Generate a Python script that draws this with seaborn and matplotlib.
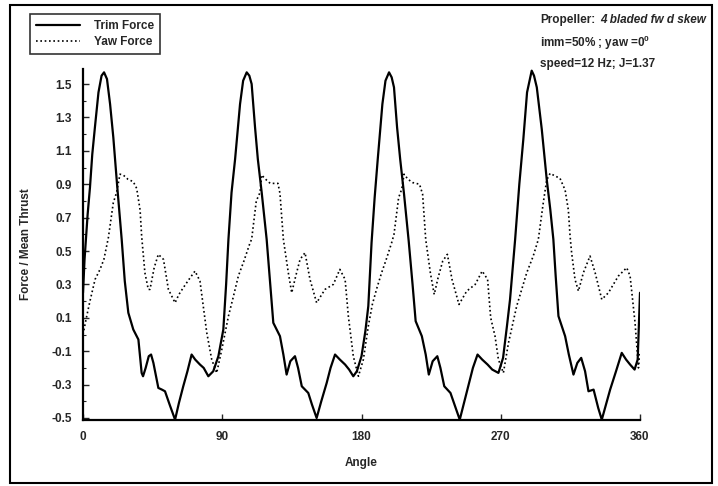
import numpy as np
import pandas as pd
import matplotlib
matplotlib.use("Agg")
import matplotlib.pyplot as plt
import seaborn as sns
from matplotlib.patches import Rectangle
from matplotlib.ticker import MultipleLocator

# Trim force
trim_angle = [
    0, 1, 3, 4.5, 6, 7.8, 10, 12, 13.6, 15.5, 17.5, 19.6, 22, 25, 27, 29.3, 32.5, 35.8,
    37.9, 38.8, 40.5, 42.5, 44, 45.5, 48.7, 51, 53, 56, 59.5, 62, 64.8, 67.5, 70.2,
    72.5, 75.6, 78, 81, 84.2, 87.5, 90.7, 92.5, 94, 96, 98.3, 101.5, 103.5, 105.8,
    107.5, 109, 111.2, 113, 115.5, 118.7, 121, 123, 127.3, 129.5, 131.6, 134, 137,
    139, 141.4, 145.6, 148, 151, 154, 157.5, 160, 162.9, 166, 169.4, 172, 174.7, 177,
    180, 182.5, 184.4, 186.5, 188.5, 190.5, 193.5, 195.5, 197.8, 199.5, 201, 203, 205,
    207.5, 210.5, 213, 215, 219, 221.5, 223.5, 226, 229, 231, 233.5, 237.5, 240.5,
    243.5, 246.5, 249.5, 252, 255, 258, 261.5, 264.5, 268.5, 271.5, 274, 276, 279.3,
    282, 284.6, 287, 290, 291.5, 293.3, 296.5, 299.7, 302, 304, 305.5, 307.3, 311.6,
    314, 317, 319.5, 322, 324.5, 326.7, 330, 333, 335.3, 338, 340.7, 344.5, 348.2,
    351, 353.6, 356.5, 358.5, 360,
]
trim_force = [
    0.25, 0.45, 0.72, 0.88, 1.08, 1.25, 1.45, 1.55, 1.57, 1.53, 1.38, 1.18, 0.90, 0.57,
    0.32, 0.13, 0.03, -0.03, -0.23, -0.25, -0.20, -0.13, -0.12, -0.17, -0.32, -0.33,
    -0.34, -0.42, -0.51, -0.41, -0.31, -0.22, -0.12, -0.15, -0.18, -0.20, -0.25, -0.22,
    -0.13, 0.03, 0.30, 0.57, 0.85, 1.05, 1.38, 1.52, 1.57, 1.55, 1.50, 1.24, 1.05,
    0.85, 0.57, 0.30, 0.07, -0.01, -0.12, -0.24, -0.16, -0.13, -0.20, -0.31, -0.35,
    -0.42, -0.50, -0.40, -0.29, -0.20, -0.12, -0.15, -0.18, -0.21, -0.25, -0.22, -0.13,
    0.02, 0.17, 0.55, 0.82, 1.05, 1.38, 1.52, 1.57, 1.54, 1.48, 1.24, 1.05, 0.84,
    0.56, 0.30, 0.08, -0.01, -0.12, -0.24, -0.16, -0.13, -0.20, -0.31, -0.35, -0.43,
    -0.51, -0.40, -0.29, -0.20, -0.12, -0.15, -0.18, -0.21, -0.23, -0.14, 0.05, 0.21,
    0.57, 0.90, 1.17, 1.45, 1.58, 1.55, 1.48, 1.23, 0.93, 0.75, 0.57, 0.35, 0.11,
    -0.01, -0.12, -0.24, -0.17, -0.14, -0.22, -0.34, -0.33, -0.44, -0.51, -0.42, -0.33,
    -0.22, -0.11, -0.15, -0.18, -0.21, -0.15, 0.25,
]

# Yaw force
yaw_angle = [
    0, 2.4, 4.5, 7.8, 11, 13.5, 16.4, 19.6, 21.7, 23.9, 26, 29, 32.5, 34.7, 36.9, 37.9,
    40, 42.2, 43.3, 46, 48.7, 52, 55.2, 59.5, 62, 64.8, 68.5, 72.4, 75.6, 80, 83.2,
    86.4, 89.7, 94, 97, 100.4, 104, 108, 109, 112, 114.4, 115.5, 118, 121, 126, 127.3,
    129.5, 132.7, 134.9, 137.5, 140.3, 143.5, 146.7, 151, 156.4, 161.8, 166, 169.4,
    171.5, 174.7, 178, 181.2, 184.4, 187, 190, 193, 196, 199.5, 201, 204, 206, 207.5,
    210, 213, 217.5, 219.5, 221.5, 224.5, 227, 229.5, 232.5, 235.5, 238.5, 243, 248,
    253.5, 258, 261.5, 263.5, 266.3, 268.5, 271.7, 275, 280.3, 286.8, 291, 294.3,
    297.5, 299.7, 301.9, 305, 308.3, 311.6, 313.7, 314.8, 315.8, 318, 320.2, 323.4,
    327.7, 331, 335.3, 339.6, 346, 351.4, 353.6, 356.8, 359, 360,
]
yaw_force = [
    0.0, 0.11, 0.20, 0.33, 0.39, 0.45, 0.58, 0.79, 0.85, 0.96, 0.955, 0.93, 0.915,
    0.875, 0.745, 0.59, 0.37, 0.27, 0.27, 0.40, 0.48, 0.45, 0.27, 0.19, 0.24, 0.28,
    0.33, 0.38, 0.32, 0.01, -0.15, -0.23, -0.09, 0.11, 0.22, 0.35, 0.44, 0.55, 0.57,
    0.80, 0.85, 0.955, 0.93, 0.905, 0.905, 0.845, 0.57, 0.37, 0.25, 0.35, 0.45, 0.49,
    0.33, 0.19, 0.27, 0.30, 0.39, 0.33, 0.11, -0.13, -0.25, -0.15, 0.05, 0.18, 0.28,
    0.37, 0.45, 0.55, 0.60, 0.82, 0.87, 0.96, 0.93, 0.91, 0.90, 0.84, 0.57, 0.37,
    0.24, 0.34, 0.44, 0.48, 0.33, 0.18, 0.26, 0.30, 0.38, 0.33, 0.10, -0.01, -0.15,
    -0.23, -0.05, 0.17, 0.37, 0.47, 0.57, 0.79, 0.925, 0.965, 0.95, 0.935, 0.865,
    0.745, 0.59, 0.49, 0.33, 0.26, 0.37, 0.47, 0.37, 0.21, 0.25, 0.35, 0.40, 0.35,
    0.07, -0.20, -0.10,
]

y_ticks = [-0.5, -0.3, -0.1, 0.1, 0.3, 0.5, 0.7, 0.9, 1.1, 1.3, 1.5]
x_ticks = [0, 90, 180, 270, 360]

sns.set_style("ticks")
plt.rcParams["font.family"] = ["Liberation Sans", "DejaVu Sans"]
plt.rcParams["font.weight"] = "bold"
plt.rcParams["mathtext.fontset"] = "custom"
plt.rcParams["mathtext.rm"] = "Liberation Sans:bold"

trim_df = pd.DataFrame({"Angle": trim_angle, "Force": trim_force})
yaw_df = pd.DataFrame({"Angle": yaw_angle, "Force": yaw_force})

fig = plt.figure(figsize=(7.18, 4.86), dpi=100)
ax = fig.add_axes([83 / 718, 1 - 420 / 486, (640 - 83) / 718, (420 - 69) / 486])

sns.lineplot(data=trim_df, x="Angle", y="Force", ax=ax, color="black",
             linewidth=1.6, sort=False, label="Trim Force")
sns.lineplot(data=yaw_df, x="Angle", y="Force", ax=ax, color="black",
             linewidth=1.2, linestyle=(0, (1, 1.6)), sort=False, label="Yaw Force")

ax.set_xlim(0, 360)
ax.set_ylim(-0.512, 1.59)
ax.set_xticks(x_ticks)
ax.set_yticks(y_ticks)
ax.set_yticklabels([f"{v:.1f}" for v in y_ticks])
ax.yaxis.set_minor_locator(MultipleLocator(0.1))
ax.tick_params(axis="both", direction="in", labelsize=8.5, pad=8, width=1, length=4)
ax.tick_params(axis="y", which="minor", direction="in", length=2.5, width=0.8)
ax.set_xlabel("Angle", fontsize=8.5, labelpad=10, fontweight="bold")
ax.set_ylabel("Force / Mean Thrust", fontsize=8.5, labelpad=14, fontweight="bold")
for side in ["top", "right"]:
    ax.spines[side].set_visible(False)
for side in ["left", "bottom"]:
    ax.spines[side].set_linewidth(1.6)
    ax.spines[side].set_color("black")

# legend sits outside the axes, top left of the page
handles, labels = ax.get_legend_handles_labels()
ax.legend_.remove()
leg = fig.legend(handles, labels, loc="upper left",
                 bbox_to_anchor=(30 / 718, 1 - 14 / 486), fontsize=8.5,
                 frameon=True, fancybox=False, handlelength=3.7, handletextpad=1.2,
                 borderpad=0.5, labelspacing=0.35, borderaxespad=0)
leg.get_frame().set_edgecolor("black")
leg.get_frame().set_linewidth(1.2)

fig.text(540 / 718, 1 - 20 / 486, "Propeller:", fontsize=8.5, va="center")
fig.text(600 / 718, 1 - 20 / 486, "4 bladed fw d skew", fontsize=8.5, va="center",
         style="italic")
fig.text(540 / 718, 1 - 43 / 486, "imm=50% ; yaw =0$^0$", fontsize=8.5, va="center")
fig.text(540 / 718, 1 - 64 / 486, "speed=12 Hz; J=1.37", fontsize=8.5, va="center")

fig.patches.append(Rectangle((10 / 718, 1 - 483 / 486), 702 / 718, 478 / 486,
                             transform=fig.transFigure, fill=False,
                             edgecolor="black", linewidth=1.5))

fig.savefig("out.png", dpi=100)
plt.close(fig)
